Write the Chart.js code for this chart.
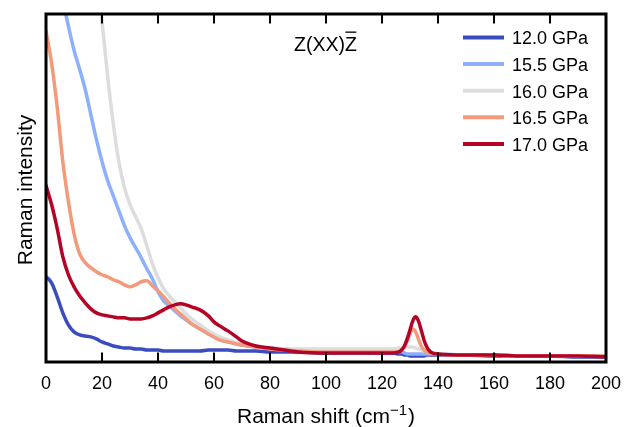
<!DOCTYPE html>
<html>
<head>
<meta charset="utf-8">
<script src="https://cdn.jsdelivr.net/npm/chart.js@4.4.1/dist/chart.umd.min.js"></script>
<style>
  html, body { margin: 0; padding: 0; background: #fff; }
</style>
</head>
<body>
<canvas id="ramanChart" width="642" height="427"></canvas>
<script>
// Raman shift (cm-1), shared by all spectra
const shift = [
    0, 2, 4, 6, 8, 10, 12, 14, 16, 18, 20, 22, 24, 26, 28, 30, 32, 34, 36, 38, 40, 42, 44, 46, 48, 50, 52,
    55, 58, 60, 62, 65, 68, 70, 75, 80, 85, 90,
    100, 110, 120, 124,
    126, 127, 128, 129, 130, 131, 132, 133, 134, 135, 136, 137, 138,
    140, 150, 160, 170, 180, 190, 200
];

const pressures = ['12.0 GPa', '15.5 GPa', '16.0 GPa', '16.5 GPa', '17.0 GPa'];

// intensities (arb. units)
const int12_0 = [
    85, 79, 65, 49, 37, 30, 27, 26, 25, 23, 20, 18, 16, 15, 14, 14, 13, 13, 12, 12, 12, 11, 11, 11, 11, 11, 11,
    11, 12, 12, 12, 12, 11, 11, 11, 10, 10, 10,
    9, 9, 9, 9,
    8, 8, 7, 7, 6, 6, 6, 6, 6, 6, 7, 7, 7,
    7, 7, 6, 6, 6, 5, 5
];
const int15_5 = [
    480, 440, 400, 362, 335, 311, 292, 272, 247, 222, 200, 181, 166, 151, 136, 124, 114, 104, 93, 83, 70, 61, 56, 51, 46, 42, 38,
    33, 28, 25, 22, 20, 18, 17, 15, 14, 13, 12,
    12, 12, 12, 12,
    11, 10, 9, 8, 8, 8, 8, 8, 8, 8, 8, 8, 8,
    8, 7, 7, 6, 6, 6, 6
];
const int16_0 = [
    800, 760, 715, 670, 625, 578, 532, 486, 440, 392, 340, 285, 238, 200, 174, 157, 145, 133, 116, 98, 84, 73, 66, 60, 54, 48, 43,
    37, 31, 28, 25, 22, 19, 18, 16, 14, 13, 13,
    13, 13, 13, 13,
    14, 14, 15, 15, 15, 15, 14, 13, 12, 11, 10, 9, 9,
    8, 7, 7, 6, 6, 6, 6
];
const int16_5 = [
    330, 298, 254, 200, 160, 128, 108, 99, 94, 90, 87, 85, 82, 80, 77, 75, 77, 80, 81, 76, 71, 65, 59, 53, 48, 43, 38,
    33, 28, 25, 22, 20, 18, 17, 15, 13, 12, 11,
    10, 10, 10, 10,
    10, 12, 15, 21, 28, 33, 30, 23, 16, 12, 10, 9, 9,
    8, 7, 7, 6, 6, 6, 6
];
const int17_0 = [
    176, 157, 133, 105, 87, 75, 66, 59, 53, 49, 47, 46, 45, 44, 44, 43, 43, 43, 44, 46, 49, 52, 55, 57, 58, 57, 55,
    52, 46, 40, 36, 31, 25, 21, 16, 14, 12, 10,
    9, 9, 9, 9,
    10, 12, 16, 23, 32, 41, 45, 41, 32, 22, 15, 11, 9,
    8, 7, 7, 6, 6, 6, 5
];

const series = [int12_0, int15_5, int16_0, int16_5, int17_0];
const colors = ['#3b4cc0', '#8db0fe', '#dddddd', '#f49a7b', '#b40426'];

const FONT = '"Liberation Sans", Arial, Helvetica, sans-serif';
Chart.defaults.font.family = FONT;
Chart.defaults.font.size = 18;
Chart.defaults.color = '#000';

// box around the plot, inward ticks top and bottom
const framePlugin = {
    id: 'frame',
    afterDatasetsDraw(chart) {
        const { ctx, chartArea: a } = chart;
        const x = chart.scales.x;
        ctx.save();
        ctx.strokeStyle = '#000';
        ctx.lineWidth = 2;
        x.ticks.forEach(t => {
            const px = x.getPixelForValue(t.value);
            ctx.beginPath();
            ctx.moveTo(px, a.top);
            ctx.lineTo(px, a.top + 9.5);
            ctx.moveTo(px, a.bottom);
            ctx.lineTo(px, a.bottom - 9.5);
            ctx.stroke();
        });
        ctx.lineWidth = 3;
        ctx.strokeRect(a.left, a.top, a.right - a.left, a.bottom - a.top);
        ctx.restore();
    }
};

// axis titles, geometry label and legend
const textPlugin = {
    id: 'texts',
    afterDraw(chart) {
        const { ctx, chartArea: a } = chart;
        ctx.save();
        ctx.fillStyle = '#000';
        ctx.textAlign = 'left';
        ctx.textBaseline = 'alphabetic';

        // y title
        ctx.font = '21px ' + FONT;
        ctx.save();
        ctx.translate(32, (a.top + a.bottom) / 2 + 2);
        ctx.rotate(-Math.PI / 2);
        ctx.textAlign = 'center';
        ctx.fillText('Raman intensity', 0, 0);
        ctx.restore();

        // x title with superscript
        const main = 'Raman shift (cm';
        const sup = '\u22121';
        const tail = ')';
        const wMain = ctx.measureText(main).width;
        const wTail = ctx.measureText(tail).width;
        ctx.font = '15px ' + FONT;
        const wSup = ctx.measureText(sup).width;
        const total = wMain + wSup + wTail + 1;
        let tx = (a.left + a.right) / 2 - total / 2;
        const base = 423;
        ctx.font = '21px ' + FONT;
        ctx.fillText(main, tx, base);
        tx += wMain;
        ctx.font = '15px ' + FONT;
        ctx.fillText(sup, tx, base - 8);
        tx += wSup + 1;
        ctx.font = '21px ' + FONT;
        ctx.fillText(tail, tx, base);

        // scattering geometry
        ctx.font = '19.5px ' + FONT;
        const geo = 'Z(XX)';
        const gx = 294, gy = 51;
        ctx.fillText(geo, gx, gy);
        const wGeo = ctx.measureText(geo).width;
        ctx.fillText('Z', gx + wGeo, gy);
        const wZ = ctx.measureText('Z').width;
        ctx.fillRect(gx + wGeo + 0.5, gy - 19.5, wZ - 1, 1.3);

        // legend
        ctx.font = '18px ' + FONT;
        chart.data.datasets.forEach((ds, i) => {
            const ly = 37.5 + i * 26.6;
            ctx.strokeStyle = ds.borderColor;
            ctx.lineWidth = 4;
            ctx.beginPath();
            ctx.moveTo(463, ly);
            ctx.lineTo(504, ly);
            ctx.stroke();
            ctx.fillText(ds.label, 512, ly + 6.8);
        });
        ctx.restore();
    }
};

const datasets = series.map((vals, i) => ({
    label: pressures[i],
    data: shift.map((s, j) => ({ x: s, y: vals[j] })),
    borderColor: colors[i],
    borderWidth: 3.5,
    pointRadius: 0,
    fill: false,
    cubicInterpolationMode: 'monotone',
    borderJoinStyle: 'round',
    borderCapStyle: 'round',
    order: series.length - i
}));

const config = {
    type: 'line',
    data: { datasets: datasets },
    options: {
        responsive: false,
        animation: false,
        devicePixelRatio: 1,
        layout: {
            padding: { left: 46, right: 36, top: 14, bottom: 0 }
        },
        plugins: {
            legend: { display: false },
            tooltip: { enabled: false }
        },
        scales: {
            x: {
                type: 'linear',
                min: 0,
                max: 200,
                grid: { display: false, drawTicks: false },
                border: { display: false },
                ticks: {
                    stepSize: 20,
                    autoSkip: false,
                    maxRotation: 0,
                    padding: 11,
                    font: { size: 18 }
                },
                afterFit(axis) {
                    axis.height = 65;
                }
            },
            y: {
                display: false,
                min: 0,
                max: 347
            }
        }
    },
    plugins: [framePlugin, textPlugin]
};

const ramanChart = new Chart(document.getElementById('ramanChart'), config);
</script>
</body>
</html>
